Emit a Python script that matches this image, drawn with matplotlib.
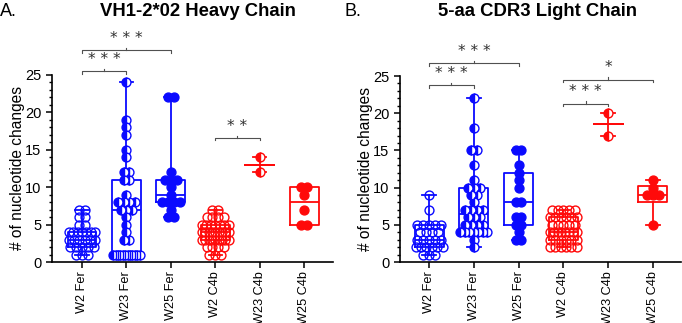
import numpy as np
import matplotlib
matplotlib.use('Agg')
import matplotlib.pyplot as plt

plt.rcParams['font.family'] = ['Liberation Sans', 'DejaVu Sans']

categories = ['W2 Fer', 'W23 Fer', 'W25 Fer', 'W2 C4b', 'W23 C4b', 'W25 C4b']

# ---- Panel A: VH1-2*02 heavy chain ----
a_w2_fer = [7, 7, 6, 6, 5, 5] + [4] * 7 + [3] * 6 + [2] * 5 + [1] * 3
a_w23_fer = [24, 19, 18, 17, 15, 14, 12, 12, 11, 11, 9, 8, 8, 8, 8, 7, 7, 7,
             6, 5, 4, 3, 3] + [1] * 12
a_w25_fer = [22, 22, 12, 11, 11, 11, 10, 9, 8, 8, 8, 8, 7, 6, 6]
a_w2_c4b = [7, 7, 6, 6, 6, 6] + [5] * 7 + [4] * 9 + [3] * 9 + [2] * 4 + [1] * 3
a_w23_c4b = [14, 12]
a_w25_c4b = [10, 10, 9, 7, 5, 5]

# ---- Panel B: 5-aa CDR3 light chain ----
b_w2_fer = [9, 7] + [5] * 5 + [4] * 4 + [3] * 5 + [2] * 6 + [1] * 3
b_w23_fer = [22, 18, 15, 15, 13, 11, 10, 10, 10, 9, 9, 8, 7, 7, 7, 7, 6, 6, 6,
             5, 5, 5, 5] + [4] * 7 + [3, 2]
b_w25_fer = [15, 15, 13, 12, 11, 10, 8, 8, 6, 6, 5, 5, 4, 3, 3]
b_w2_c4b = [7] * 5 + [6] * 6 + [5] * 5 + [4] * 8 + [3] * 6 + [2] * 6
b_w23_c4b = [20, 17]
b_w25_c4b = [11, 10, 9, 9, 9, 5]

panel_a = [a_w2_fer, a_w23_fer, a_w25_fer, a_w2_c4b, a_w23_c4b, a_w25_c4b]
panel_b = [b_w2_fer, b_w23_fer, b_w25_fer, b_w2_c4b, b_w23_c4b, b_w25_c4b]

# significance annotations: (group i, group j, height, label)
sig_a = [(0, 1, 25.5, '***'), (0, 2, 28.3, '***'), (3, 4, 16.6, '**')]
sig_b = [(0, 1, 23.8, '***'), (0, 2, 26.7, '***'), (3, 5, 24.5, '*'),
         (3, 4, 21.3, '***')]

BLUE = '#0a0aff'
RED = '#ff0a0a'
colors = [BLUE, BLUE, BLUE, RED, RED, RED]
fills = ['none', 'left', 'full', 'none', 'left', 'full']


def box_stats(vals):
    v = np.asarray(vals, float)
    med = np.median(v)
    if len(v) < 3:
        q1 = q3 = med
    else:
        q1, q3 = np.percentile(v, [25, 75], method='weibull')
    return dict(med=med, q1=q1, q3=q3, whislo=v.min(), whishi=v.max(),
                fliers=[])


def row_offsets(vals, spacing=0.13, maxw=0.6):
    vals = np.asarray(vals)
    off = np.zeros(len(vals))
    for u in np.unique(vals):
        idx = np.where(vals == u)[0]
        c = len(idx)
        s = spacing if (c - 1) * spacing <= maxw else maxw / (c - 1)
        off[idx] = (np.arange(c) - (c - 1) / 2) * s
    return off


def draw_panel(ax, groups, sigs):
    stats = [box_stats(g) for g in groups]
    pos = np.arange(len(groups))
    art = ax.bxp(stats, positions=pos, widths=0.65, capwidths=0.3,
                 showfliers=False, patch_artist=False)
    for i, c in enumerate(colors):
        art['boxes'][i].set(color=c, linewidth=1.3)
        art['medians'][i].set(color=c, linewidth=1.3)
        for k in (2 * i, 2 * i + 1):
            art['whiskers'][k].set(color=c, linewidth=1.3)
            art['caps'][k].set(color=c, linewidth=1.3)
    for i, g in enumerate(groups):
        x = pos[i] + row_offsets(g)
        ax.plot(x, g, 'o', ms=6.4, mew=1.0, color=colors[i],
                mec=colors[i], fillstyle=fills[i],
                markerfacecoloralt='white', zorder=3, clip_on=False)
    for (i, j, y, lab) in sigs:
        xm = (i + j) / 2
        ax.plot([i, i, j, j], [y - 0.35, y, y, y - 0.35], color='#505050',
                lw=0.8, clip_on=False)
        ax.plot([xm, xm], [y, y + 0.3], color='#505050', lw=0.8,
                clip_on=False)
        ax.annotate(' '.join(lab), (xm, y), xytext=(0, 8.5),
                    textcoords='offset points', ha='center', va='center',
                    fontsize=11, color='#303030', annotation_clip=False,
                    family='DejaVu Sans')

    ax.set_ylim(0, 25)
    ax.set_yticks([0, 5, 10, 15, 20, 25])
    ax.set_yticks(np.arange(0, 26, 1), minor=True)
    ax.set_xticks(pos)
    ax.set_xticklabels(categories, rotation=90, fontsize=9.2)
    ax.tick_params(axis='y', labelsize=10.5, length=4, width=1.1,
                   direction='out')
    ax.tick_params(axis='y', which='minor', length=2.5, width=1.0)
    ax.tick_params(axis='x', length=4, width=1.1, pad=2.5)
    for s in ('top', 'right'):
        ax.spines[s].set_visible(False)
    for s in ('left', 'bottom'):
        ax.spines[s].set_linewidth(1.2)
    ax.set_ylabel('# of nucleotide changes', fontsize=11.2)
    ax.yaxis.set_label_coords(-0.095, 0.5)


fig = plt.figure(figsize=(6.82, 3.23), dpi=100)
ax1 = fig.add_axes([52 / 682, 1 - 262 / 323, 281 / 682, 187 / 323])
ax2 = fig.add_axes([400 / 682, 1 - 262 / 323, 281 / 682, 186 / 323])

draw_panel(ax1, panel_a, sig_a)
ax1.set_xlim(-0.675, 5.65)
draw_panel(ax2, panel_b, sig_b)
ax2.set_xlim(-0.65, 5.63)

fig.text(198 / 682, 1 - 12 / 323, 'VH1-2*02 Heavy Chain', ha='center',
         va='center', fontsize=13.3, fontweight='bold')
fig.text(537 / 682, 1 - 12 / 323, '5-aa CDR3 Light Chain', ha='center',
         va='center', fontsize=13.3, fontweight='bold')
fig.text(0.0, 1 - 11 / 323, 'A.', ha='left', va='center', fontsize=13)
fig.text(344 / 682, 1 - 11 / 323, 'B.', ha='left', va='center', fontsize=13)

fig.savefig('out.png', dpi=100)
